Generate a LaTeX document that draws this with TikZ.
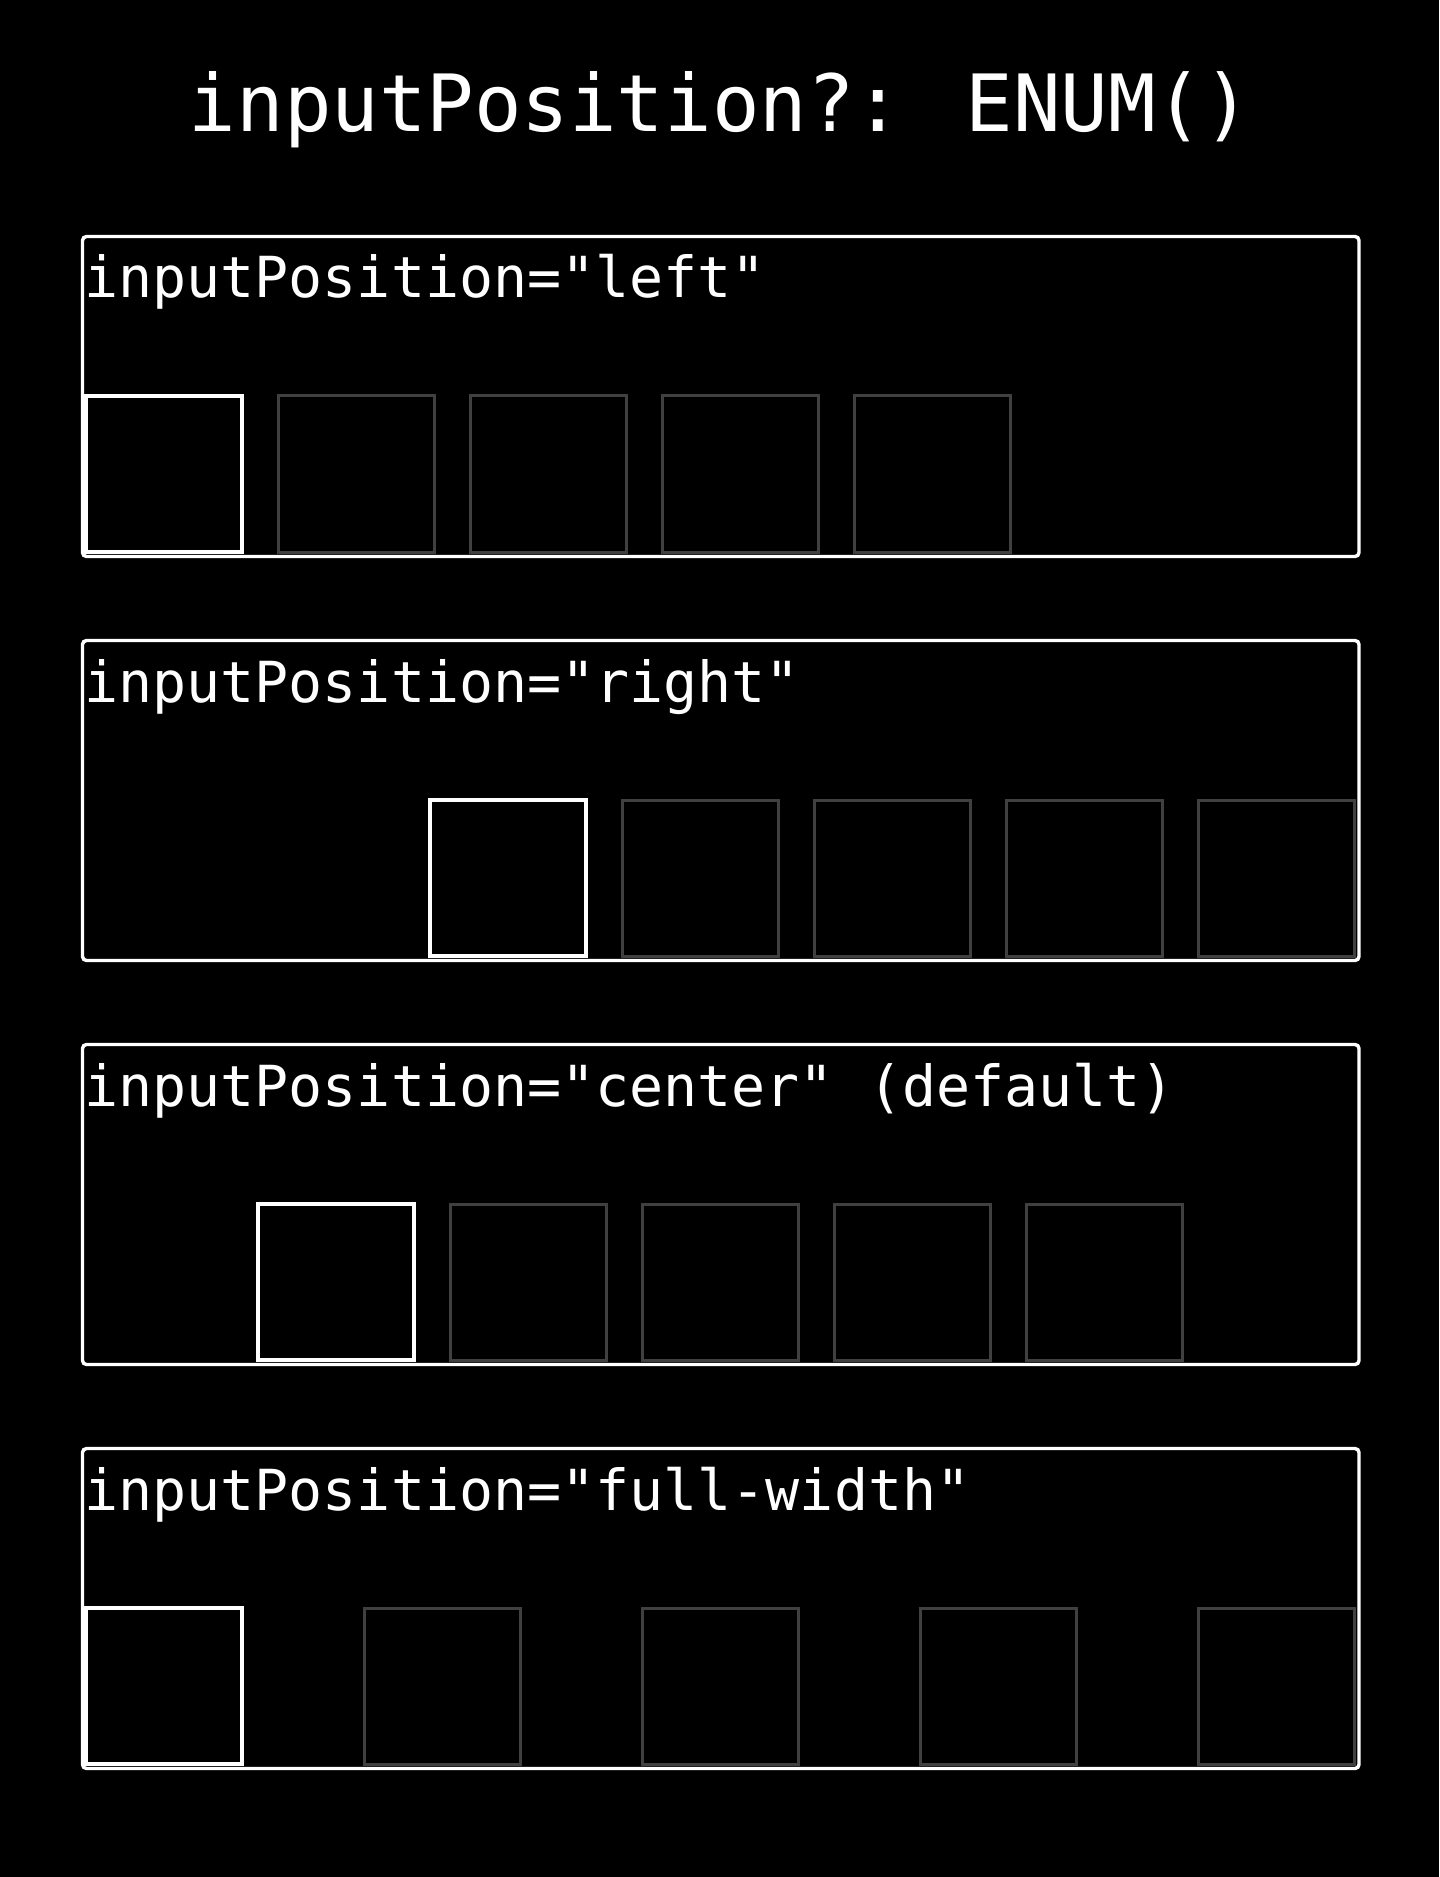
\documentclass[tikz,border=0pt]{standalone}
\usepackage{fontspec}
\newfontfamily\codefont{DejaVu Sans Mono}
\definecolor{slotgray}{HTML}{404040}
\begin{document}
\begin{tikzpicture}[x=0.5pt,y=-0.5pt,
		panel/.style={draw=white,line width=1.7pt,rounded corners=2pt},
		slot/.style={draw=slotgray,line width=1.5pt,minimum size=78pt,inner sep=0pt},
		slotactive/.style={slot,draw=white,line width=2pt},
		label/.style={white,anchor=base west,inner sep=0pt,font=\codefont\fontsize{28.3pt}{30pt}\selectfont}]
		\fill[black] (0,0) rectangle (1439,1877);
		\node[white,anchor=base,inner sep=0pt,font=\codefont\fontsize{39.5pt}{42pt}\selectfont] (title) at (720,132) {inputPosition?: ENUM()};
		% left
		\draw[panel] (82.5,236.5) rectangle (1359,556.5);
		\node[label] (lleft) at (84,298) {inputPosition="left"};
		\node[slot] (l2) at (356,474) {};
		\node[slot] (l3) at (548,474) {};
		\node[slot] (l4) at (740,474) {};
		\node[slot] (l5) at (932,474) {};
		\node[slotactive] (l1) at (164,474) {};
		% right
		\draw[panel] (82.5,640.5) rectangle (1359,960.5);
		\node[label] (lright) at (84,702) {inputPosition="right"};
		\node[slot] (r2) at (700,878) {};
		\node[slot] (r3) at (892,878) {};
		\node[slot] (r4) at (1084,878) {};
		\node[slot] (r5) at (1276,878) {};
		\node[slotactive] (r1) at (508,878) {};
		% center
		\draw[panel] (82.5,1044.5) rectangle (1359,1364.5);
		\node[label] (lcenter) at (84,1106) {inputPosition="center" (default)};
		\node[slot] (c2) at (528,1282) {};
		\node[slot] (c3) at (720,1282) {};
		\node[slot] (c4) at (912,1282) {};
		\node[slot] (c5) at (1104,1282) {};
		\node[slotactive] (c1) at (336,1282) {};
		% full-width
		\draw[panel] (82.5,1448.5) rectangle (1359,1768.5);
		\node[label] (lfull) at (84,1510) {inputPosition="full-width"};
		\node[slot] (f2) at (442,1686) {};
		\node[slot] (f3) at (720,1686) {};
		\node[slot] (f4) at (998,1686) {};
		\node[slot] (f5) at (1276,1686) {};
		\node[slotactive] (f1) at (164,1686) {};
	\end{tikzpicture}
\end{document}
